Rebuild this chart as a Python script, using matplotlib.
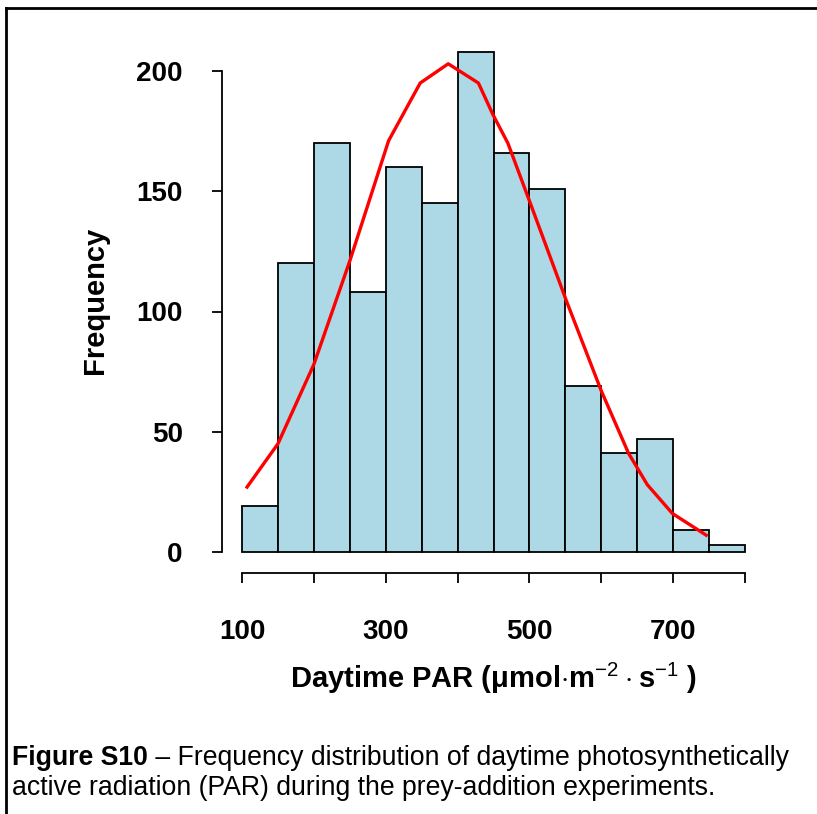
import matplotlib.pyplot as plt
from matplotlib.lines import Line2D

# histogram bins (PAR) and counts
bin_edges = [100, 150, 200, 250, 300, 350, 400, 450, 500, 550, 600, 650, 700, 750, 800]
counts = [19, 120, 170, 108, 160, 145, 208, 166, 151, 69, 41, 47, 9, 3]

# red fitted curve
curve_x = [107, 150, 200, 250, 304, 348, 387, 429, 449, 470, 500, 552, 600, 638, 664, 699, 746]
curve_y = [27, 45, 78, 121, 171, 195, 203, 195, 182, 170, 146, 104, 67, 41, 28, 16, 7]

x_ticks = [100, 200, 300, 400, 500, 600, 700, 800]
x_tick_labels = ["100", "", "300", "", "500", "", "700", ""]
y_ticks = [0, 50, 100, 150, 200]

plt.rcParams['font.family'] = ['Liberation Sans', 'DejaVu Sans']
plt.rcParams['mathtext.fontset'] = 'custom'
plt.rcParams['mathtext.rm'] = 'Liberation Sans'
plt.rcParams['mathtext.bf'] = 'Liberation Sans:bold'

W, H = 817, 814
fig = plt.figure(figsize=(W / 100, H / 100), dpi=100)

# axes placed so 100..800 -> px 242..745 and 0..200 -> px 552..71
ax_w = (745 - 242) / W
ax_h = (552 - 71) / H
ax = fig.add_axes([242 / W, 1 - 552 / H, ax_w, ax_h])
ax.set_xlim(100, 800)
ax.set_ylim(0, 200)

lefts = bin_edges[:-1]
widths = [b - a for a, b in zip(bin_edges[:-1], bin_edges[1:])]
ax.bar(lefts, counts, width=widths, align='edge', color='#add8e6',
       edgecolor='black', linewidth=1.3, clip_on=False)
ax.plot(curve_x, curve_y, color='red', linewidth=2.4, clip_on=False)

# R style detached axes
for s in ['top', 'right']:
    ax.spines[s].set_visible(False)
ax.spines['left'].set_position(('outward', 14.4))
ax.spines['left'].set_bounds(0, 200)
ax.spines['bottom'].set_position(('outward', 15))
ax.spines['bottom'].set_bounds(100, 800)
ax.spines['left'].set_linewidth(1.3)
ax.spines['bottom'].set_linewidth(1.3)

ax.set_xticks(x_ticks)
ax.set_xticklabels(x_tick_labels)
ax.set_yticks(y_ticks)
ax.set_yticklabels([str(v) for v in y_ticks])
ax.tick_params(axis='both', direction='out', length=7.2, width=1.3,
               labelsize=20)
ax.tick_params(axis='x', pad=26)
ax.tick_params(axis='y', pad=21)
for lab in ax.get_xticklabels() + ax.get_yticklabels():
    lab.set_fontweight('bold')

ax.set_ylabel("Frequency", fontsize=21, fontweight='bold')
ax.yaxis.set_label_coords((95 - 242) / 503, 0.5 + (300 - 311.5) / -481)
ax.yaxis.label.set_va('center')
ax.set_xlabel(r"Daytime PAR ($\mathbf{\mu}$mol$\cdot$m$^{-2}\cdot$s$^{-1}$ )",
              fontsize=21, fontweight='bold')
ax.xaxis.set_label_coords(0.5 + (493 - 493.5) / 503, (552 - 678) / 481)
ax.xaxis.label.set_va('center')

# caption, bold lead then normal text placed right after it
cap_size = 19.2
t1 = fig.text(12 / W, 1 - 758 / H, "Figure S10", fontsize=cap_size,
              fontweight='bold', va='center', ha='left')
fig.canvas.draw()
bb = t1.get_window_extent()
fig.text(bb.x1 / W, 1 - 758 / H,
         " \u2013 Frequency distribution of daytime photosynthetically",
         fontsize=cap_size, va='center', ha='left')
fig.text(12 / W, 1 - 788 / H,
         "active radiation (PAR) during the prey-addition experiments.",
         fontsize=cap_size, va='center', ha='left')

# frame lines (top and left)
fig.add_artist(Line2D([6 / W, 1], [1 - 8 / H, 1 - 8 / H], color='black',
                      linewidth=2, transform=fig.transFigure))
fig.add_artist(Line2D([6 / W, 6 / W], [0, 1 - 8 / H], color='black',
                      linewidth=2, transform=fig.transFigure))

fig.savefig("out.png", dpi=100)
